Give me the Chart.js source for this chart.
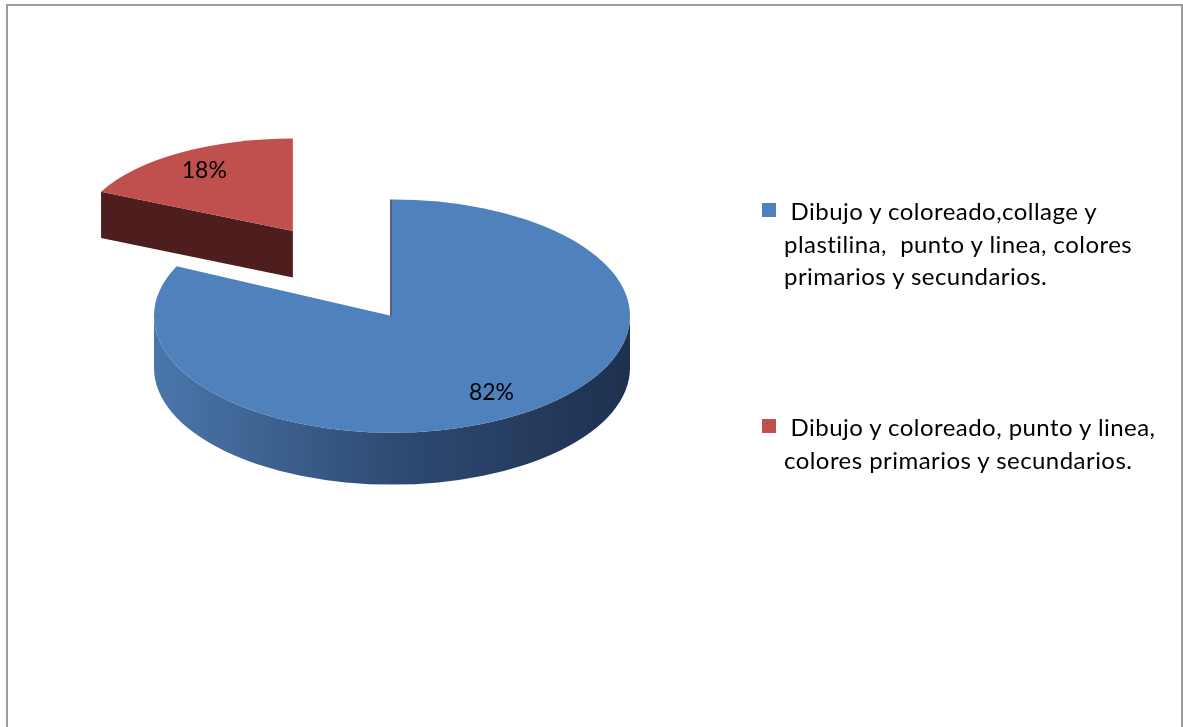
<!DOCTYPE html>
<html lang="es">
<head>
    <meta charset="UTF-8">
    <title>Técnicas de expresión plástica</title>
    <script src="https://cdn.jsdelivr.net/npm/chart.js"></script>
    <style>
        body {
            margin: 0;
            background: #fff;
            font-family: Lato, "Open Sans", sans-serif;
        }

        .frame {
            position: absolute;
            left: 6px;
            top: 4px;
            width: 1173px;
            height: 780px;
            border: 2px solid #9c9c9c;
            border-bottom: none;
        }

        #pieChart {
            position: absolute;
            left: 0;
            top: 0;
        }

        .legend-item {
            position: absolute;
            left: 762px;
            font-size: 24px;
            letter-spacing: 0.45px;
            line-height: 32.5px;
            color: #000;
        }

        .legend-item .box {
            position: absolute;
            left: 0;
            top: 8px;
            width: 14px;
            height: 14px;
        }

        .legend-item .text {
            margin-left: 22px;
            white-space: pre;
        }
    </style>
</head>
<body>
    <div class="frame"></div>
    <canvas id="pieChart" width="1183" height="727"></canvas>
    <div id="legend"></div>
    <script>
        const labels = [
            [' Dibujo y coloreado,collage y', 'plastilina,  punto y linea, colores', 'primarios y secundarios.'],
            [' Dibujo y coloreado, punto y linea,', 'colores primarios y secundarios.']
        ];
        const values = [82, 18];
        const colors = ['#4f81bd', '#c0504d'];
        const explode = [0, 185];

        // colours of the pie's walls: left, middle, right
        const sideColors = [
            ['#4a77ab', '#2f4b74', '#1e314f'],
            ['#561f1f', '#4e1d1d', '#461a1a']
        ];

        const TILT = 0.49;       // vertical squash of the top face
        const DEPTH = 52;        // thickness of the pie
        const PERSP = 0.0007;    // slices further back look smaller
        const LABEL_POS = 0.78;  // label distance from the centre, as part of the radius

        function sliceShape(chart, arc, i) {
            const p = arc.getProps(['x', 'y', 'startAngle', 'endAngle', 'outerRadius'], true);
            const mid = (p.startAngle + p.endAngle) / 2;
            const off = explode[i] || 0;
            const dy = Math.sin(mid) * off;
            const s = 1 + PERSP * dy;
            return {
                cx: p.x + Math.cos(mid) * off,
                cy: p.y + dy * TILT * (2 - s),
                rx: p.outerRadius * s,
                ry: p.outerRadius * TILT * s * s,
                d: DEPTH * s,
                start: p.startAngle,
                end: p.endAngle,
                mid: mid,
                sinMid: Math.sin(mid)
            };
        }

        function drawWalls(ctx, g, cols) {
            const grad = ctx.createLinearGradient(g.cx - g.rx, 0, g.cx + g.rx, 0);
            grad.addColorStop(0, cols[0]);
            grad.addColorStop(0.5, cols[1]);
            grad.addColorStop(1, cols[2]);

            // curved outer wall, only the part facing the viewer
            for (let k = -1; k <= 1; k++) {
                const a0 = Math.max(g.start, k * 2 * Math.PI);
                const a1 = Math.min(g.end, k * 2 * Math.PI + Math.PI);
                if (a1 <= a0) continue;
                ctx.beginPath();
                ctx.ellipse(g.cx, g.cy, g.rx, g.ry, 0, a0, a1, false);
                ctx.lineTo(g.cx + g.rx * Math.cos(a1), g.cy + g.d + g.ry * Math.sin(a1));
                ctx.ellipse(g.cx, g.cy + g.d, g.rx, g.ry, 0, a1, a0, true);
                ctx.closePath();
                ctx.fillStyle = grad;
                ctx.fill();
            }

            // flat cut faces
            const face = (a) => {
                const ex = g.cx + g.rx * Math.cos(a);
                const ey = g.cy + g.ry * Math.sin(a);
                ctx.beginPath();
                ctx.moveTo(g.cx, g.cy);
                ctx.lineTo(ex, ey);
                ctx.lineTo(ex, ey + g.d);
                ctx.lineTo(g.cx, g.cy + g.d);
                ctx.closePath();
                ctx.fillStyle = cols[1];
                ctx.fill();
            };
            if (Math.cos(g.start) < -1e-6) face(g.start);
            if (Math.cos(g.end) > 1e-6) face(g.end);
        }

        // a cut seen edge-on still shows as a thin dark line
        function drawEdge(ctx, g, cols) {
            if (Math.abs(Math.cos(g.start)) < 1e-3 && Math.sin(g.start) < 0) {
                ctx.beginPath();
                ctx.moveTo(g.cx - 1, g.cy);
                ctx.lineTo(g.cx - 1, g.cy - g.ry);
                ctx.strokeStyle = cols[2];
                ctx.lineWidth = 1.5;
                ctx.stroke();
            }
        }

        const pie3d = {
            id: 'pie3d',
            beforeDatasetsDraw(chart) {
                const ctx = chart.ctx;
                const meta = chart.getDatasetMeta(0);
                const shapes = meta.data.map((arc, i) => ({ i, arc, g: sliceShape(chart, arc, i) }));
                // paint back to front
                shapes.sort((a, b) => a.g.sinMid - b.g.sinMid);

                ctx.save();
                shapes.forEach(({ i, arc, g }) => {
                    drawWalls(ctx, g, sideColors[i]);
                    ctx.beginPath();
                    ctx.moveTo(g.cx, g.cy);
                    ctx.ellipse(g.cx, g.cy, g.rx, g.ry, 0, g.start, g.end, false);
                    ctx.closePath();
                    ctx.fillStyle = arc.options.backgroundColor;
                    ctx.fill();
                    drawEdge(ctx, g, sideColors[i]);
                });

                ctx.fillStyle = '#000';
                ctx.font = '23px Lato, "Open Sans", sans-serif';
                ctx.textAlign = 'center';
                ctx.textBaseline = 'middle';
                shapes.forEach(({ i, g }) => {
                    const tx = g.cx + Math.cos(g.mid) * g.rx * LABEL_POS;
                    const ty = g.cy + Math.sin(g.mid) * g.ry * LABEL_POS;
                    ctx.fillText(values[i] + '%', tx, ty);
                });
                ctx.restore();
                return false;
            }
        };

        new Chart(document.getElementById('pieChart').getContext('2d'), {
            type: 'pie',
            data: {
                labels: labels.map(l => l.join(' ').trim()),
                datasets: [{
                    data: values,
                    backgroundColor: colors,
                    borderWidth: 0
                }]
            },
            options: {
                responsive: false,
                animation: false,
                radius: 238,
                rotation: 0,
                layout: { padding: { left: 20, right: 419, top: 5, bottom: 100 } },
                plugins: {
                    legend: { display: false },
                    tooltip: { enabled: false }
                }
            },
            plugins: [pie3d]
        });

        // legend on the right, one block per slice
        const legendTops = [195, 411];
        const legend = document.getElementById('legend');
        labels.forEach((lines, i) => {
            const item = document.createElement('div');
            item.className = 'legend-item';
            item.style.top = legendTops[i] + 'px';
            const box = document.createElement('span');
            box.className = 'box';
            box.style.background = colors[i];
            const text = document.createElement('div');
            text.className = 'text';
            text.textContent = lines.join('\n');
            item.appendChild(box);
            item.appendChild(text);
            legend.appendChild(item);
        });
    </script>
</body>
</html>
